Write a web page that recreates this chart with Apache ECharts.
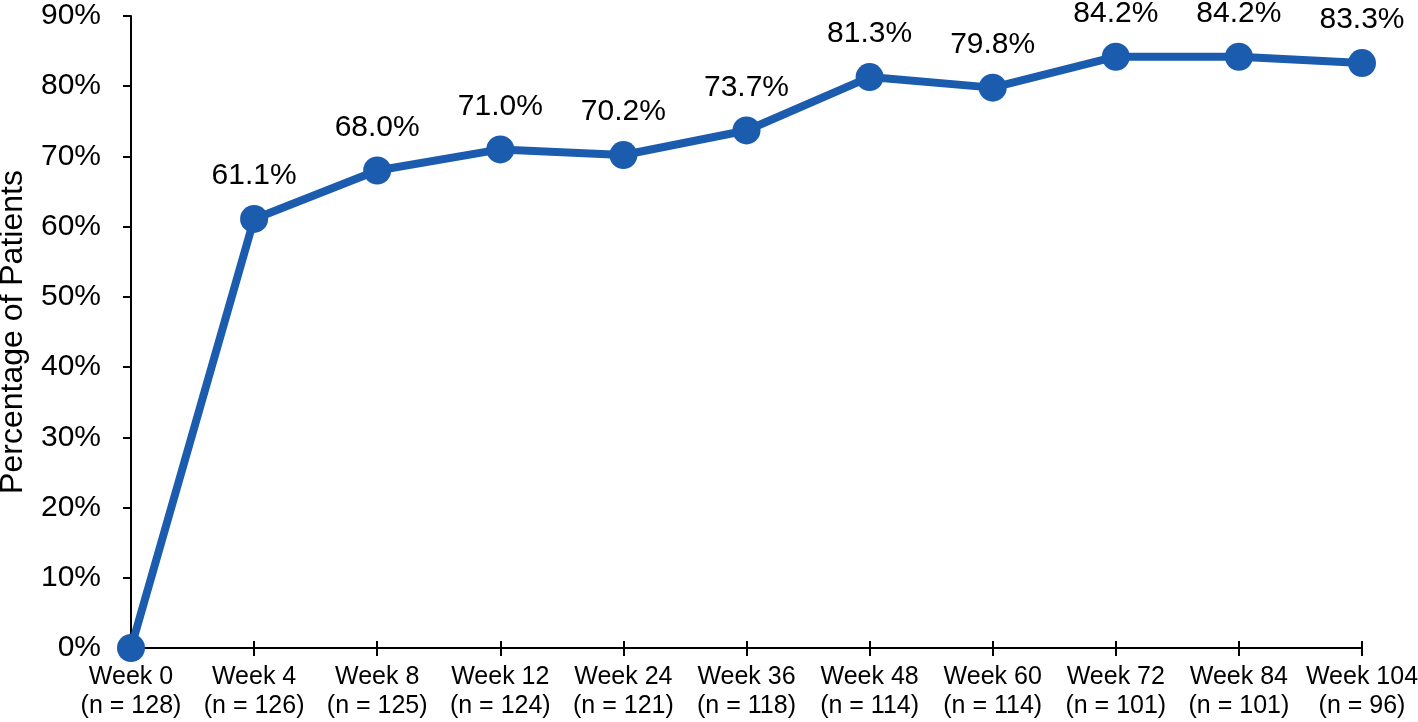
<!DOCTYPE html>
<html>
<head>
<meta charset="utf-8">
<style type="text/css">
	html, body{
		margin: 0;
		padding: 0;
		background: #fff;
	}
	#chart{
		width: 1418px;
		height: 722px;
	}
</style>
</head>
<body>
<div id="chart"></div>
<script src="https://cdn.jsdelivr.net/npm/echarts@6/dist/echarts.min.js"></script>
<script>
var weeks = ['Week 0', 'Week 4', 'Week 8', 'Week 12', 'Week 24', 'Week 36', 'Week 48', 'Week 60', 'Week 72', 'Week 84', 'Week 104'];
var patients = [128, 126, 125, 124, 121, 118, 114, 114, 101, 101, 96];
var percent = [0, 61.1, 68.0, 71.0, 70.2, 73.7, 81.3, 79.8, 84.2, 84.2, 83.3];
var yTicks = [0, 10, 20, 30, 40, 50, 60, 70, 80, 90];

var font = 'Liberation Sans, Arial, sans-serif';
var blue = '#1b5cae';

var categories = [];
for (var i = 0; i < weeks.length; i++) {
	categories.push(weeks[i] + '\n(n = ' + patients[i] + ')');
}

var myChart = echarts.init(document.getElementById('chart'));

option = {
	animation: false,
	backgroundColor: '#fff',
	grid: {
		left: 131,
		right: 56,
		top: 16,
		bottom: 74,
		containLabel: false,
		outerBoundsMode: 'none'
	},
	xAxis: [{
		type: 'category',
		data: categories,
		boundaryGap: false,
		axisLine: {lineStyle: {color: '#000', width: 2}},
		axisTick: {length: 8, lineStyle: {color: '#000', width: 2}},
		axisLabel: {
			color: '#000',
			fontFamily: font,
			fontSize: 25,
			lineHeight: 29,
			margin: 15,
			interval: 0
		}
	}, {
		// inner half of the crossing ticks
		type: 'category',
		data: categories,
		boundaryGap: false,
		position: 'bottom',
		axisLine: {show: false},
		axisTick: {inside: true, length: 7, lineStyle: {color: '#000', width: 2}},
		axisLabel: {show: false}
	}],
	yAxis: {
		type: 'value',
		min: yTicks[0],
		max: yTicks[yTicks.length - 1],
		interval: 10,
		name: 'Percentage of Patients',
		nameLocation: 'middle',
		nameGap: 102,
		nameTextStyle: {color: '#000', fontFamily: font, fontSize: 32},
		splitLine: {show: false},
		axisLine: {show: true, lineStyle: {color: '#000', width: 2}},
		axisTick: {show: true, length: 8, lineStyle: {color: '#000', width: 2}},
		axisLabel: {
			color: '#000',
			fontFamily: font,
			fontSize: 30,
			margin: 30,
			formatter: '{value}%'
		}
	},
	series: [{
		type: 'line',
		data: percent,
		symbol: 'circle',
		symbolSize: 28,
		lineStyle: {color: blue, width: 8},
		itemStyle: {color: blue},
		label: {
			show: true,
			position: 'top',
			distance: 14,
			color: '#000',
			fontFamily: font,
			fontSize: 30,
			formatter: function (p) {
				if (p.dataIndex === 0) return '';
				return p.value.toFixed(1) + '%';
			}
		}
	}]
};

myChart.setOption(option);
</script>
</body>
</html>
